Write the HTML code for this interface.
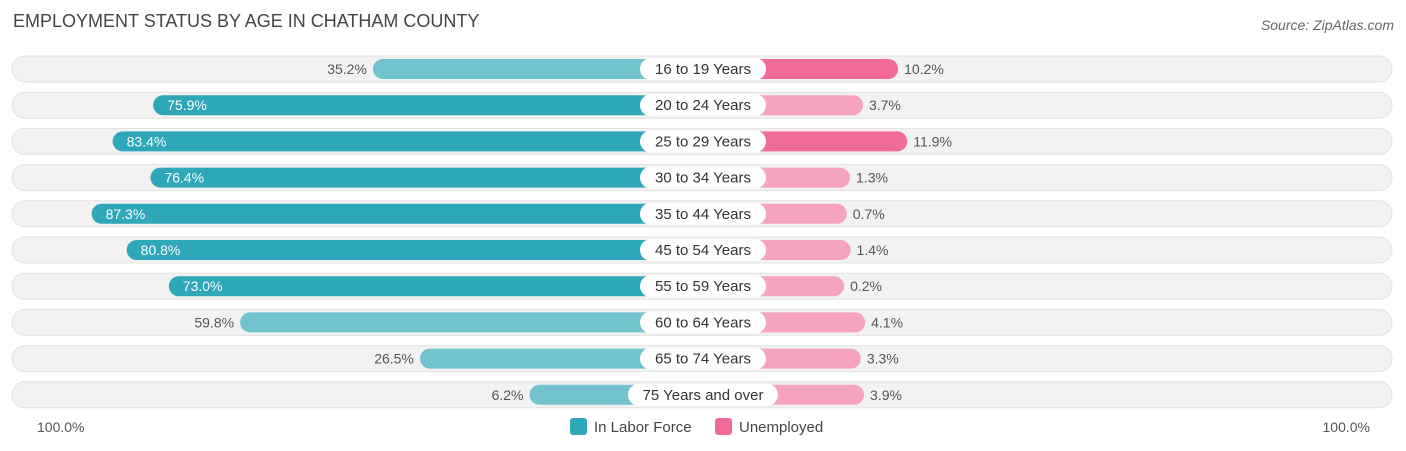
<!DOCTYPE html>
<html><head><meta charset="utf-8"><style>
body{margin:0;width:1406px;height:451px;background:#fff;font-family:"Liberation Sans",sans-serif;overflow:hidden;position:relative}
.t{position:absolute;white-space:nowrap}
</style></head><body>
<div class="t" style="left:13px;top:11px;font-size:18px;color:#444">EMPLOYMENT STATUS BY AGE IN CHATHAM COUNTY</div>
<div class="t" style="right:12px;top:17px;font-size:14px;color:#666;font-style:italic">Source: ZipAtlas.com</div>
<svg id="c" width="1406" height="451" style="position:absolute;left:0;top:0;font-family:'Liberation Sans',sans-serif"></svg>
<script>
const categories=["16 to 19 Years","20 to 24 Years","25 to 29 Years","30 to 34 Years","35 to 44 Years","45 to 54 Years","55 to 59 Years","60 to 64 Years","65 to 74 Years","75 Years and over"];
const laborForce=[35.2,75.9,83.4,76.4,87.3,80.8,73.0,59.8,26.5,6.2];
const unemployed=[10.2,3.7,11.9,1.3,0.7,1.4,0.2,4.1,3.3,3.9];
const axisLabels=["100.0%","100.0%"];
const svg=document.getElementById('c');const NS='http://www.w3.org/2000/svg';
const cx=703,off=140,sc=5.4,y0=69,dy=36.2;
function mk(tag,a,txt){const e=document.createElementNS(NS,tag);for(const k in a)e.setAttribute(k,a[k]);if(txt!=null)e.textContent=txt;svg.appendChild(e);return e;}
function xl(v){return cx-off-v*sc;}function xr(v){return cx+off+v*sc;}
categories.forEach((cat,i)=>{
 const y=y0+i*dy;
 let e=mk('rect',{x:12,y:y-13,width:1380,height:26,rx:13,fill:'#f2f2f2',stroke:'#e2e2e2'});
 
 const lv=laborForce[i],l=xl(lv);const inside=lv>65;
 e=mk('rect',{x:l,y:y-10,width:cx-l,height:20,rx:10,fill:inside?'#2ea7b8':'#72c3cd'});
 
 e=mk('text',{x:inside?l+14:l-6,y:y+5,'font-size':14,fill:inside?'#fff':'#555','text-anchor':inside?'start':'end'},lv.toFixed(1)+'%');
 
 const uv=unemployed[i],r=xr(uv);
 e=mk('rect',{x:cx,y:y-10,width:r-cx,height:20,rx:10,fill:uv>8?'#f06b96':'#f5a3be'});
 
 e=mk('text',{x:r+6,y:y+5,'font-size':14,fill:'#555'},uv.toFixed(1)+'%');
 
 const w=cat.length>14?150:126;
 e=mk('rect',{x:cx-w/2,y:y-11,width:w,height:22,rx:11,fill:'#fff'});
 
 e=mk('text',{x:cx,y:y+5,'font-size':15,fill:'#333','text-anchor':'middle'},cat);
 
});
let e=mk('text',{x:37,y:432,'font-size':14,fill:'#555'},axisLabels[0]);

e=mk('text',{x:1370,y:432,'font-size':14,fill:'#555','text-anchor':'end'},axisLabels[1]);

e=mk('rect',{x:570,y:418,width:17,height:17,rx:3,fill:'#2ea7b8'});

e=mk('text',{x:594,y:432,'font-size':15,fill:'#444'},'In Labor Force');

e=mk('rect',{x:715,y:418,width:17,height:17,rx:3,fill:'#f06b96'});

e=mk('text',{x:739,y:432,'font-size':15,fill:'#444'},'Unemployed');

</script>
</body></html>
